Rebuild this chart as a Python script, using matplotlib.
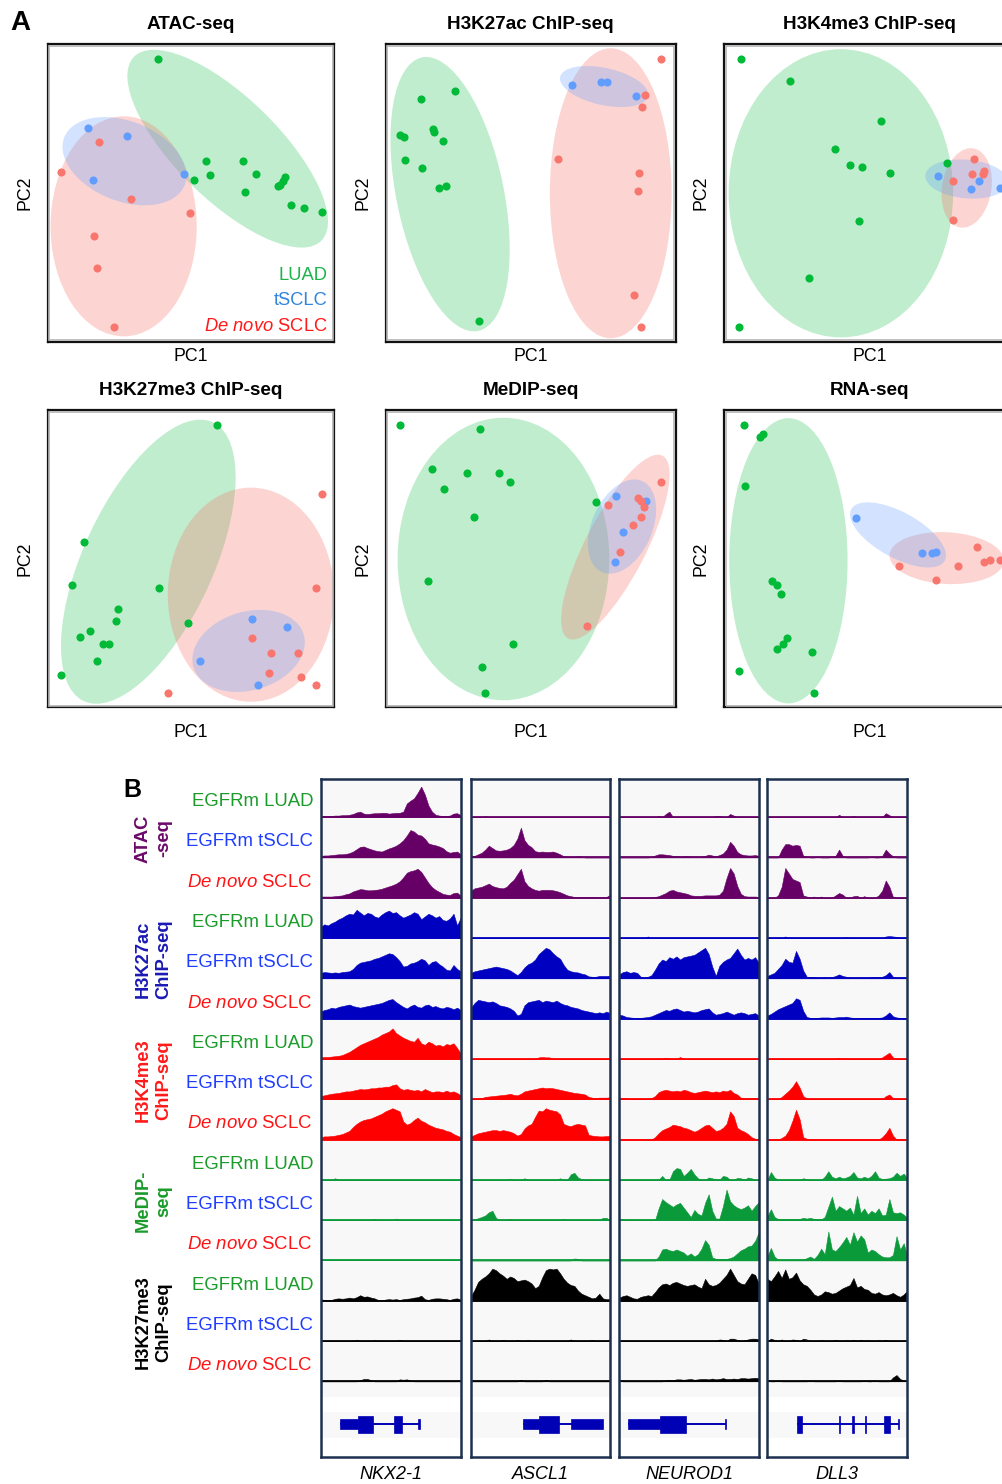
import numpy as np
import matplotlib
matplotlib.use("Agg")
import matplotlib.pyplot as plt
from matplotlib.patches import Ellipse, Rectangle

plt.rcParams['font.family'] = ['Liberation Sans', 'DejaVu Sans']
plt.rcParams['mathtext.fontset'] = 'custom'
plt.rcParams['mathtext.rm'] = 'Liberation Sans'
plt.rcParams['mathtext.it'] = 'Liberation Sans:italic'
plt.rcParams['mathtext.bf'] = 'Liberation Sans:bold'


def bins(spikes, n=40):
    # sparse track: {bin index: signal}
    out = [0] * n
    for i, v in spikes.items():
        out[i] = v
    return out


# ---------------- Panel A: PCA scores (PC1, PC2), arbitrary units 0-100 ----------------
pca_titles = ["ATAC-seq", "H3K27ac ChIP-seq", "H3K4me3 ChIP-seq",
              "H3K27me3 ChIP-seq", "MeDIP-seq", "RNA-seq"]

atac_luad = [(38.5, 94.9), (55.2, 60.9), (68.0, 60.9), (56.7, 56.0), (72.7, 56.3), (50.9, 54.5),
             (68.8, 50.2), (82.9, 55.3), (82.0, 53.9), (81.0, 52.8), (80.3, 52.4), (85.0, 46.0),
             (89.4, 44.8), (95.6, 43.6)]
atac_tsclc = [(14.2, 72.0), (27.8, 69.0), (15.8, 54.3), (47.6, 56.5)]
atac_denovo = [(17.8, 67.1), (4.7, 57.2), (29.2, 47.9), (49.5, 43.3), (16.0, 35.5), (17.3, 24.8),
               (23.1, 4.9)]

k27ac_luad = [(23.8, 84.4), (12.3, 81.7), (4.9, 69.6), (6.3, 68.8), (16.2, 71.4), (16.6, 70.5),
              (19.9, 67.4), (6.6, 61.0), (12.6, 58.5), (18.5, 51.8), (20.8, 52.5), (32.1, 6.8)]
k27ac_tsclc = [(64.3, 86.3), (74.3, 87.4), (76.3, 87.4), (86.2, 82.6)]
k27ac_denovo = [(95.1, 95.0), (89.5, 82.8), (88.5, 79.0), (59.5, 61.5), (87.5, 56.8), (87.0, 50.6),
                (85.7, 15.8), (87.9, 5.0)]

k4me3_luad = [(5.6, 95.0), (22.6, 87.8), (54.1, 74.2), (38.2, 64.8), (43.3, 59.4), (47.4, 58.6),
              (57.0, 56.8), (76.9, 60.2), (46.4, 40.6), (29.1, 21.4), (5.2, 5.0)]
k4me3_tsclc = [(73.7, 55.7), (87.7, 53.9), (84.9, 51.2), (95.2, 51.6)]
k4me3_denovo = [(86.0, 61.5), (85.4, 56.4), (89.2, 56.4), (89.7, 57.3), (78.7, 53.9), (79.0, 41.0)]

k27me3_luad = [(59.0, 95.0), (12.8, 55.5), (8.4, 41.1), (38.8, 40.2), (24.5, 33.0), (23.8, 29.0),
               (14.7, 25.6), (11.2, 23.7), (19.4, 21.2), (21.5, 21.2), (17.2, 15.6), (4.7, 11.0),
               (48.8, 28.3)]
k27me3_tsclc = [(71.2, 29.6), (83.6, 27.1), (53.1, 15.6), (73.3, 7.4)]
k27me3_denovo = [(95.7, 71.7), (93.7, 40.1), (71.3, 23.4), (77.8, 18.4), (87.4, 18.4), (77.1, 11.4),
                 (88.5, 10.1), (93.6, 7.4), (42.0, 5.0)]

medip_luad_pc = [(5.1, 95.0), (32.6, 93.5), (16.0, 80.3), (27.9, 78.9), (39.0, 78.9), (42.9, 75.9),
                 (20.0, 73.4), (30.3, 64.0), (72.4, 69.2), (14.7, 42.6), (43.8, 21.4), (33.1, 13.5),
                 (34.3, 4.9)]
medip_tsclc_pc = [(79.4, 71.1), (89.9, 69.5), (81.7, 58.9), (78.9, 49.0)]
medip_denovo_pc = [(95.1, 75.7), (76.7, 68.2), (87.1, 70.4), (88.0, 69.3), (89.0, 67.3), (87.9, 63.9),
                   (85.2, 61.3), (80.9, 52.4), (69.5, 27.4)]

rna_luad = [(6.7, 95.1), (12.3, 91.0), (13.4, 91.8), (7.0, 74.4), (16.6, 42.6), (18.3, 41.1),
            (19.4, 38.0), (21.5, 23.5), (20.2, 21.3), (18.2, 19.8), (30.3, 18.7), (4.9, 12.4),
            (31.1, 4.9)]
rna_tsclc = [(45.5, 63.8), (68.2, 51.8), (71.7, 51.9), (73.0, 52.2)]
rna_denovo = [(60.3, 47.6), (73.1, 42.8), (80.5, 47.6), (87.2, 53.9), (89.7, 49.0), (91.7, 49.6),
              (95.1, 49.6)]

# group ellipses (centre x, centre y, width, height, angle) for LUAD, tSCLC, de novo
atac_ell = [(62.8, 64.9, 90, 35, -43), (26.8, 60.7, 45, 27, -20), (26.5, 38.8, 51, 74, 0)]
k27ac_ell = [(22.2, 49.6, 37, 94, 12), (75.3, 85.8, 31, 12.5, -12), (77.6, 49.9, 42, 97.5, 0)]
k4me3_ell = [(40.2, 49.9, 77.4, 96.9, 0), (83.6, 54.7, 28.7, 13, -5), (83.6, 51.7, 17, 27, -10)]
k27me3_ell = [(35.1, 49.0, 45, 104, -26), (70.1, 19.0, 40, 26.5, 15), (70.9, 37.9, 58, 72, 0)]
medip_ell = [(40.6, 49.9, 73, 95, 0), (81.5, 60.8, 20.7, 33.6, -25), (79.2, 53.9, 20.7, 69.5, -28)]
rna_ell = [(22.1, 49.3, 40.8, 95.9, 0), (59.9, 58.0, 36.6, 15.4, -28), (76.7, 50.2, 39.5, 17.4, -3)]

# ---------------- Panel B: genome browser tracks (40 bins per locus, % of track height) ----------------
genes = ["NKX2-1", "ASCL1", "NEUROD1", "DLL3"]
samples = ["EGFRm LUAD", "EGFRm tSCLC", r"$\mathit{De\ novo}$ SCLC"]

atac_luad_sig = [
    [3, 3, 3, 3, 4, 4, 5, 5, 6, 8, 12, 14, 9, 8, 9, 10, 10, 11, 11, 9, 10, 11, 11, 14, 35, 42, 48, 62, 78, 58,
     30, 14, 6, 4, 3, 3, 4, 9, 10, 5],
    bins({4: 3}),
    bins({11: 3, 13: 8, 14: 14, 27: 3, 28: 3, 31: 8, 32: 4}),
    bins({20: 6, 24: 3, 33: 10, 34: 5}),
]
atac_tsclc_sig = [
    [4, 5, 5, 6, 7, 8, 8, 9, 11, 15, 21, 27, 28, 24, 21, 18, 16, 15, 19, 23, 26, 30, 36, 44, 56, 70, 66, 58, 56,
     48, 36, 33, 31, 28, 24, 16, 12, 14, 15, 8],
    [3, 4, 8, 12, 20, 30, 24, 18, 17, 18, 20, 24, 32, 48, 76, 44, 32, 26, 16, 14, 15, 14, 14, 15, 12, 8, 3, 2, 2,
     2, 3, 2, 0, 0, 0, 0, 0, 0, 0, 0],
    [0, 0, 0, 0, 0, 0, 0, 0, 0, 1, 5, 8, 8, 7, 6, 4, 4, 2, 3, 3, 2, 2, 2, 2, 4, 7, 5, 3, 6, 10, 20, 40, 30, 14, 8,
     6, 5, 5, 6, 4],
    [0, 0, 0, 0, 20, 34, 34, 30, 32, 30, 4, 2, 0, 0, 2, 0, 0, 0, 2, 4, 20, 4, 0, 0, 0, 0, 0, 0, 0, 2, 0, 0, 4, 20,
     10, 3, 0, 0, 0, 0],
]
atac_denovo_sig = [
    [3, 3, 3, 3, 4, 5, 6, 9, 11, 16, 19, 22, 21, 19, 19, 20, 21, 23, 26, 29, 32, 36, 42, 52, 64, 68, 70, 74, 66,
     52, 38, 27, 20, 15, 10, 8, 7, 12, 13, 5],
    [18, 24, 26, 28, 32, 36, 30, 27, 25, 24, 28, 38, 46, 60, 74, 42, 30, 24, 20, 18, 20, 20, 20, 19, 17, 14, 10,
     6, 4, 2, 2, 2, 2, 2, 2, 1, 1, 1, 2, 7],
    [0, 0, 0, 0, 0, 0, 0, 0, 0, 1, 2, 4, 8, 12, 18, 20, 16, 14, 12, 10, 6, 5, 5, 5, 6, 6, 6, 6, 8, 18, 50, 76, 62,
     30, 10, 4, 3, 3, 3, 2],
    [0, 0, 0, 6, 28, 76, 62, 48, 44, 40, 6, 3, 0, 3, 0, 3, 0, 0, 0, 6, 12, 8, 0, 0, 4, 5, 0, 4, 0, 0, 0, 6, 18,
     44, 28, 2, 0, 0, 0, 0],
]
k27ac_luad_sig = [
    [28, 35, 32, 38, 42, 48, 52, 58, 62, 60, 72, 65, 58, 64, 62, 55, 52, 60, 66, 70, 64, 66, 58, 52, 56, 60, 66,
     62, 48, 55, 62, 58, 52, 56, 46, 44, 50, 62, 32, 52],
    bins({}),
    bins({8: 4}),
    bins({5: 4, 22: 2, 33: 4, 34: 5, 35: 4, 36: 3}),
]
k27ac_tsclc_sig = [
    [14, 16, 15, 14, 15, 14, 16, 17, 18, 24, 34, 40, 42, 44, 46, 50, 52, 56, 60, 64, 62, 54, 44, 30, 32, 38, 40,
     44, 50, 46, 34, 42, 44, 36, 30, 22, 20, 34, 24, 18],
    [14, 18, 20, 22, 24, 26, 28, 30, 28, 26, 24, 20, 14, 8, 16, 28, 36, 40, 48, 62, 70, 78, 74, 64, 56, 50, 34,
     22, 18, 16, 15, 12, 10, 5, 4, 4, 6, 6, 6, 7],
    [10, 16, 18, 14, 16, 14, 4, 2, 4, 8, 22, 38, 48, 44, 54, 50, 56, 48, 54, 56, 58, 60, 66, 72, 78, 62, 30, 6,
     32, 42, 48, 52, 64, 76, 60, 48, 52, 48, 54, 40],
    [6, 10, 14, 24, 34, 50, 42, 40, 70, 50, 20, 4, 3, 3, 2, 2, 3, 2, 3, 6, 10, 6, 4, 2, 2, 2, 2, 2, 2, 3, 3, 3, 4,
     8, 16, 4, 2, 2, 2, 2],
]
k27ac_denovo_sig = [
    [18, 22, 24, 28, 26, 30, 32, 34, 36, 32, 30, 28, 30, 32, 34, 36, 38, 40, 44, 48, 50, 42, 36, 30, 26, 32, 36,
     30, 28, 34, 36, 30, 32, 28, 26, 30, 28, 24, 28, 22],
    [28, 40, 48, 46, 44, 42, 44, 40, 34, 32, 30, 26, 20, 8, 12, 34, 42, 44, 46, 48, 42, 46, 44, 42, 46, 40, 36,
     34, 30, 28, 26, 22, 20, 18, 16, 14, 16, 14, 18, 14],
    [10, 8, 4, 3, 2, 2, 2, 3, 4, 6, 10, 14, 18, 22, 20, 24, 26, 22, 18, 20, 18, 16, 18, 22, 24, 26, 16, 10, 12,
     14, 18, 14, 10, 14, 16, 14, 10, 12, 14, 8],
    [8, 12, 18, 24, 28, 32, 36, 40, 52, 48, 20, 4, 2, 2, 2, 3, 3, 3, 2, 3, 4, 4, 5, 3, 2, 2, 2, 2, 2, 2, 2, 2, 3,
     8, 16, 6, 3, 2, 2, 2],
]
k4me3_luad_sig = [
    [4, 5, 5, 6, 7, 8, 10, 14, 18, 24, 30, 36, 40, 44, 48, 52, 56, 62, 66, 70, 78, 66, 60, 54, 50, 46, 44, 54, 40,
     36, 44, 40, 34, 36, 32, 38, 36, 40, 28, 14],
    bins({19: 4, 20: 5, 21: 4, 22: 4}),
    bins({13: 3, 17: 5}),
    bins({20: 2, 32: 4, 33: 10, 34: 16, 35: 4}),
]
k4me3_tsclc_sig = [
    [8, 10, 12, 14, 15, 16, 18, 20, 20, 22, 24, 26, 25, 26, 28, 28, 30, 30, 32, 32, 36, 38, 28, 24, 26, 24, 22,
     24, 20, 26, 22, 18, 20, 20, 18, 22, 18, 20, 16, 10],
    [1, 2, 2, 3, 6, 7, 8, 9, 10, 11, 12, 14, 11, 10, 14, 20, 22, 24, 26, 28, 30, 28, 29, 28, 26, 24, 22, 20, 18,
     16, 15, 14, 12, 6, 4, 3, 4, 4, 4, 5],
    [4, 3, 2, 0, 0, 0, 0, 0, 0, 3, 8, 18, 22, 24, 22, 20, 22, 20, 24, 22, 18, 16, 18, 20, 22, 20, 18, 20, 18, 22,
     20, 24, 16, 12, 4, 2, 2, 2, 3, 2],
    bins({4: 6, 5: 14, 6: 22, 7: 32, 8: 46, 9: 30, 10: 8, 11: 2, 33: 8, 34: 12, 35: 3}),
]
k4me3_denovo_sig = [
    [6, 8, 8, 9, 10, 12, 14, 18, 22, 32, 40, 46, 50, 52, 54, 58, 62, 66, 72, 76, 80, 76, 72, 46, 38, 42, 50, 56,
     48, 44, 38, 34, 30, 28, 26, 22, 20, 14, 10, 6],
    [8, 12, 16, 18, 20, 22, 24, 24, 22, 24, 22, 20, 16, 10, 14, 28, 36, 40, 58, 74, 72, 80, 76, 74, 72, 64, 40,
     36, 34, 38, 40, 38, 36, 12, 10, 9, 8, 8, 9, 9],
    [0, 0, 0, 0, 0, 0, 0, 0, 0, 0, 6, 16, 24, 28, 32, 38, 36, 34, 30, 28, 24, 20, 24, 30, 36, 38, 30, 22, 24, 30,
     40, 72, 60, 30, 24, 20, 14, 6, 2, 1],
    bins({4: 4, 5: 10, 6: 24, 7: 48, 8: 76, 9: 52, 10: 6, 11: 2, 32: 6, 33: 16, 34: 30, 35: 10}),
]
medip_luad_sig = [
    bins({4: 4}),
    bins({11: 3, 15: 4, 25: 4, 28: 14, 29: 18, 30: 6, 31: 2}),
    bins({12: 10, 15: 22, 16: 30, 17: 28, 18: 10, 19: 18, 20: 28, 21: 14, 22: 4, 25: 6, 26: 4, 29: 10, 30: 8,
          33: 5, 34: 4, 36: 6, 37: 4}),
    [0, 20, 6, 0, 0, 0, 0, 0, 0, 0, 4, 2, 0, 0, 0, 0, 8, 22, 8, 4, 8, 4, 6, 10, 20, 6, 4, 8, 4, 10, 22, 6, 2, 3,
     4, 8, 18, 10, 16, 4],
]
medip_tsclc_sig = [
    bins({15: 3, 21: 4}),
    bins({1: 2, 2: 5, 3: 8, 4: 12, 5: 20, 6: 24, 7: 6, 11: 3, 26: 3, 37: 6, 38: 6}),
    [2, 2, 0, 0, 0, 0, 0, 0, 0, 0, 0, 30, 54, 46, 40, 34, 40, 44, 32, 20, 8, 26, 16, 12, 44, 66, 24, 4, 4, 36,
     78, 48, 38, 32, 28, 32, 38, 24, 36, 46],
    [10, 28, 8, 3, 2, 2, 2, 2, 2, 3, 6, 4, 6, 3, 2, 2, 8, 34, 60, 24, 36, 30, 24, 32, 14, 62, 18, 30, 14, 24, 18,
     30, 12, 14, 54, 20, 18, 20, 14, 6],
]
medip_denovo_sig = [
    bins({}),
    bins({29: 5, 30: 4}),
    [0, 0, 0, 0, 0, 0, 0, 0, 0, 0, 0, 10, 28, 30, 26, 24, 28, 24, 20, 12, 18, 10, 16, 30, 52, 40, 8, 4, 4, 4, 4,
     6, 10, 18, 26, 30, 36, 38, 50, 72],
    [10, 32, 10, 2, 2, 1, 2, 2, 2, 2, 2, 6, 10, 4, 14, 30, 16, 74, 28, 24, 34, 46, 60, 40, 72, 48, 64, 54, 20, 28,
     24, 16, 10, 8, 8, 14, 62, 28, 44, 10],
]
k27me3_luad_sig = [
    [4, 2, 1, 2, 5, 6, 5, 6, 8, 6, 9, 14, 10, 11, 8, 6, 2, 1, 3, 4, 3, 4, 2, 4, 5, 6, 8, 9, 13, 4, 2, 5, 6, 6, 5,
     4, 2, 5, 6, 3],
    [12, 28, 48, 56, 62, 70, 82, 78, 70, 64, 56, 62, 58, 50, 52, 54, 50, 44, 32, 38, 60, 78, 82, 80, 82, 70, 56,
     46, 40, 38, 26, 18, 14, 10, 6, 8, 18, 6, 4, 4],
    [8, 12, 14, 10, 6, 5, 10, 12, 14, 12, 22, 34, 42, 44, 40, 46, 48, 44, 40, 38, 40, 42, 36, 32, 56, 42, 38, 40,
     46, 56, 66, 82, 66, 50, 44, 42, 56, 70, 66, 44],
    [56, 50, 62, 76, 58, 80, 56, 60, 72, 52, 42, 38, 28, 16, 12, 16, 24, 22, 18, 20, 26, 32, 36, 40, 58, 34, 38,
     30, 28, 20, 18, 22, 16, 14, 16, 20, 14, 10, 16, 26],
]
k27me3_tsclc_sig = [
    bins({10: 3, 15: 2, 22: 3}),
    bins({5: 4, 9: 3, 13: 3, 16: 2, 28: 4, 34: 3, 39: 5}),
    bins({28: 4, 29: 3, 31: 6, 32: 6, 33: 3, 35: 2, 36: 4, 37: 6, 38: 6, 39: 5}),
    bins({1: 6, 2: 3, 4: 4, 7: 4, 8: 3, 10: 6, 11: 4, 15: 2, 19: 3, 22: 2, 24: 3, 26: 3, 28: 2, 31: 2, 33: 3}),
]
k27me3_denovo_sig = [
    bins({11: 3, 12: 6, 13: 6, 14: 3, 22: 5, 23: 4, 24: 5, 25: 2}),
    bins({14: 4, 21: 4}),
    [3, 0, 0, 0, 0, 0, 0, 0, 0, 0, 0, 0, 0, 3, 4, 3, 5, 5, 4, 5, 6, 4, 5, 6, 6, 5, 7, 5, 6, 8, 6, 6, 7, 6, 8, 8, 7,
     8, 9, 8],
    bins({0: 3, 3: 2, 12: 2, 20: 2, 27: 2, 30: 2, 35: 10, 36: 16, 37: 6, 38: 2}),
]

# gene models, positions in % of locus window
gene_lines = [(13.8, 70.9), (37.6, 94.9), (6.1, 76.5), (21.1, 94.0)]
gene_utr = [[(13.8, 26.6), (69.8, 71.2)], [(37.6, 49.0), (71.6, 94.9)], [(6.1, 29.4), (75.9, 76.9)],
            [(93.3, 94.3)]]
gene_cds = [[(26.6, 37.4), (52.4, 58.1)], [(49.0, 63.6)], [(29.4, 47.8)],
            [(21.1, 24.8), (51.0, 52.2), (60.6, 61.8), (69.6, 70.8), (83.6, 87.9)]]

# ---------------- layout helpers ----------------
W, H = 1003, 1484
fig = plt.figure(figsize=(W / 100, H / 100), dpi=100)


def rect(x0, y0, x1, y1):
    return [x0 / W, 1 - y1 / H, (x1 - x0) / W, (y1 - y0) / H]


def ftext(x, y, s, **kw):
    fig.text(x / W, 1 - y / H, s, **kw)


GREEN, BLUE, RED = '#00BA38', '#619CFF', '#F8766D'
group_colors = [GREEN, BLUE, RED]
ell_alpha = [0.25, 0.28, 0.3]

pca_sets = [
    (atac_luad, atac_tsclc, atac_denovo, atac_ell),
    (k27ac_luad, k27ac_tsclc, k27ac_denovo, k27ac_ell),
    (k4me3_luad, k4me3_tsclc, k4me3_denovo, k4me3_ell),
    (k27me3_luad, k27me3_tsclc, k27me3_denovo, k27me3_ell),
    (medip_luad_pc, medip_tsclc_pc, medip_denovo_pc, medip_ell),
    (rna_luad, rna_tsclc, rna_denovo, rna_ell),
]
col_left = [47.7, 385.7, 724.3]
col_w = [286.6, 290, 290]
row_top = [44.3, 410]
row_h = 297.4
pc1_gap = [19.5, 29.4]

for k, (luad, tsclc, denovo, ells) in enumerate(pca_sets):
    r, c = divmod(k, 3)
    x0, y0 = col_left[c], row_top[r]
    x1, y1 = x0 + col_w[c], y0 + row_h
    ax = fig.add_axes(rect(x0, y0, x1, y1))
    ax.set_xlim(0, 100)
    ax.set_ylim(0, 100)
    for (cx, cy, w, h, a), col, al, order in zip(ells, group_colors, ell_alpha, [1, 3, 2]):
        ax.add_patch(Ellipse((cx, cy), w, h, angle=a, facecolor=col, edgecolor='none', alpha=al, zorder=order))
    for pts, col in zip([luad, tsclc, denovo], group_colors):
        xs, ys = zip(*pts)
        ax.scatter(xs, ys, s=34, color=col, linewidths=0, zorder=5)
    ax.set_xticks([])
    ax.set_yticks([])
    for sp in ax.spines.values():
        sp.set_linewidth(1.6)
        sp.set_color('#111111')
    ax.add_patch(Rectangle((0.006, 0.006), 0.988, 0.988, transform=ax.transAxes, fill=False,
                           edgecolor='#b5b5b5', lw=1.2, zorder=6))
    ftext((x0 + x1) / 2, y0 - 15, pca_titles[k], ha='center', va='baseline', fontsize=13.6,
          fontweight='bold')
    ftext((x0 + x1) / 2, y1 + pc1_gap[r], "PC1", ha='center', va='baseline', fontsize=12.8)
    ftext(x0 - 23, (y0 + y1) / 2, "PC2", ha='center', va='center', rotation=90, fontsize=12.8)
    if k == 0:
        kw = dict(transform=ax.transAxes, ha='right', va='baseline', fontsize=13.2, zorder=7)
        ax.text(0.978, 0.208, "LUAD", color='#1db34a', **kw)
        ax.text(0.978, 0.122, "tSCLC", color='#2f86dc', **kw)
        ax.text(0.978, 0.037, r"$\mathit{De\ novo}$ SCLC", color='#ff1a1a', **kw)

ftext(10, 30, "A", fontsize=20, fontweight='bold', va='baseline')

# ---------------- Panel B ----------------
assays = [
    ("ATAC\n-seq", '#660066', [atac_luad_sig, atac_tsclc_sig, atac_denovo_sig]),
    ("H3K27ac\nChIP-seq", '#0000c0', [k27ac_luad_sig, k27ac_tsclc_sig, k27ac_denovo_sig]),
    ("H3K4me3\nChIP-seq", '#ff0000', [k4me3_luad_sig, k4me3_tsclc_sig, k4me3_denovo_sig]),
    ("MeDIP-\nseq", '#0a9a3a', [medip_luad_sig, medip_tsclc_sig, medip_denovo_sig]),
    ("H3K27me3\nChIP-seq", '#000000', [k27me3_luad_sig, k27me3_tsclc_sig, k27me3_denovo_sig]),
]
label_colors = ['#1a9b2a', '#1f3cff', '#ff1414']
group_label_colors = ['#6a0a6a', '#1a1ab4', '#ff1a1a', '#1a9b2a', '#000000']

bx0 = [320.7, 471.0, 619.3, 767.3]
bx1 = [460.7, 610.0, 758.7, 907.3]
track_top0 = 778.0
track_h = 40.3

for g, (name, color, sample_sigs) in enumerate(assays):
    for s, sig in enumerate(sample_sigs):
        row = g * 3 + s
        top = track_top0 + track_h * row
        bottom = top + track_h
        for c in range(4):
            ax = fig.add_axes(rect(bx0[c], top, bx1[c], bottom))
            ax.set_facecolor('#f8f8f8')
            vals = np.asarray(sig[c], dtype=float)
            xs = np.linspace(0, 100, len(vals))
            ax.fill_between(xs, 0, vals, color=color, lw=0.4, edgecolor=color)
            ax.axhline(0, color=color, lw=1.3)
            ax.set_xlim(0, 100)
            ax.set_ylim(-3, 100)
            ax.set_xticks([])
            ax.set_yticks([])
            for sp in ax.spines.values():
                sp.set_visible(False)
        ftext(313, top + 28, samples[s], ha='right', va='baseline', fontsize=13.4, color=label_colors[s])
    mid = track_top0 + track_h * (g * 3 + 1) + track_h / 2
    ftext(153.5, mid, name, ha='center', va='center', rotation=90, fontsize=13.2, fontweight='bold',
          color=group_label_colors[g], multialignment='center', linespacing=1.25)

gene_top = track_top0 + track_h * 15
frame_bottom = 1457.0
for c in range(4):
    ax = fig.add_axes(rect(bx0[c], gene_top, bx1[c], frame_bottom))
    ax.set_xlim(0, 100)
    ax.set_ylim(0, 1)
    ax.set_facecolor('white')
    ax.axhspan(0.80, 1.0, color='#f8f8f8', lw=0)
    ax.axhspan(0.26, 0.61, color='#f8f8f8', lw=0)
    yc = 0.44
    gcol = '#0000b4'
    ax.plot(gene_lines[c], [yc, yc], color=gcol, lw=1.4, solid_capstyle='butt')
    for a, b in gene_utr[c]:
        ax.add_patch(Rectangle((a, yc - 0.068), b - a, 0.136, facecolor=gcol, edgecolor=gcol, lw=0.5))
    for a, b in gene_cds[c]:
        ax.add_patch(Rectangle((a, yc - 0.115), b - a, 0.23, facecolor=gcol, edgecolor=gcol, lw=0.5))
    ax.set_xticks([])
    ax.set_yticks([])
    for sp in ax.spines.values():
        sp.set_visible(False)

    fr = fig.add_axes(rect(bx0[c], 779.0, bx1[c], frame_bottom), zorder=20)
    fr.set_facecolor('none')
    fr.set_xticks([])
    fr.set_yticks([])
    for sp in fr.spines.values():
        sp.set_linewidth(1.8)
        sp.set_color('#1d3050')
    ftext((bx0[c] + bx1[c]) / 2, 1479, genes[c], ha='center', va='baseline', fontsize=13,
          fontstyle='italic')

ftext(123, 797, "B", fontsize=18, fontweight='bold', va='baseline')

fig.savefig("out.png", dpi=100)
